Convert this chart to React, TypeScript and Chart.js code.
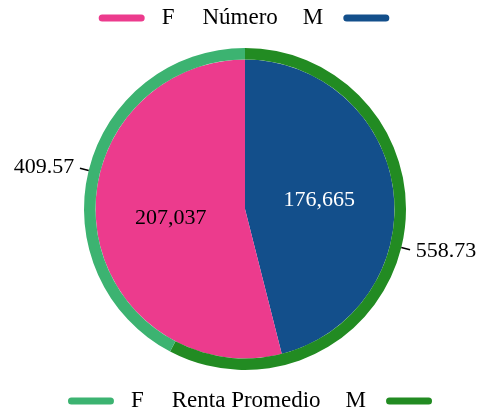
import React, { useEffect, useRef } from 'react';
import { Chart, registerables } from 'chart.js';

Chart.register(...registerables);

// Slice order: drawn clockwise from 12 o'clock
const categories = ['M', 'F'];
const numeroValues = [176665, 207037];
const rentaValues = [558.73, 409.57];
const numeroTitle = 'Número';
const rentaTitle = 'Renta Promedio';
const numeroColors = ['#134F8B', '#EC3B8D'];
const rentaColors = ['#228B22', '#3CB371'];
const numeroTextColors = ['#FFFFFF', '#000000'];

const FONT = "'Liberation Serif', 'DejaVu Serif', serif";

const fmtNumero = (v: number) => v.toLocaleString('en-US');
const fmtRenta = (v: number) => v.toFixed(2);

function drawLegend(ctx: CanvasRenderingContext2D, cx: number, cy: number, title: string, colors: string[]) {
  const iF = categories.indexOf('F');
  const iM = categories.indexOf('M');
  ctx.font = `23px ${FONT}`;
  const lineW = 46, g1 = 17, g2 = 28, g3 = 25, g4 = 20;
  const wF = ctx.measureText(categories[iF]).width;
  const wT = ctx.measureText(title).width;
  const wM = ctx.measureText(categories[iM]).width;
  const total = lineW + g1 + wF + g2 + wT + g3 + wM + g4 + lineW;
  let x = cx - total / 2;
  ctx.lineCap = 'round';
  ctx.lineWidth = 7;
  ctx.strokeStyle = colors[iF];
  ctx.beginPath();
  ctx.moveTo(x + 3.5, cy);
  ctx.lineTo(x + lineW - 3.5, cy);
  ctx.stroke();
  x += lineW + g1;
  ctx.fillStyle = '#000';
  ctx.textAlign = 'left';
  ctx.textBaseline = 'middle';
  ctx.fillText(categories[iF], x, cy);
  x += wF + g2;
  ctx.fillText(title, x, cy);
  x += wT + g3;
  ctx.fillText(categories[iM], x, cy);
  x += wM + g4;
  ctx.strokeStyle = colors[iM];
  ctx.beginPath();
  ctx.moveTo(x + 3.5, cy);
  ctx.lineTo(x + lineW - 3.5, cy);
  ctx.stroke();
}

const customPlugin = {
  id: 'customPieLabels',
  afterDatasetsDraw(chart: any) {
    const ctx: CanvasRenderingContext2D = chart.ctx;
    ctx.save();
    ctx.font = `22px ${FONT}`;
    ctx.textBaseline = 'middle';
    const inner = chart.getDatasetMeta(1);
    inner.data.forEach((arc: any, i: number) => {
      const p = arc.getProps(['x', 'y', 'startAngle', 'endAngle', 'outerRadius'], true);
      const mid = (p.startAngle + p.endAngle) / 2;
      const r = p.outerRadius * 0.5;
      ctx.fillStyle = numeroTextColors[i];
      ctx.textAlign = 'center';
      ctx.fillText(fmtNumero(numeroValues[i]), p.x + Math.cos(mid) * r, p.y + Math.sin(mid) * r);
    });
    const outer = chart.getDatasetMeta(0);
    outer.data.forEach((arc: any, i: number) => {
      const p = arc.getProps(['x', 'y', 'startAngle', 'endAngle', 'outerRadius'], true);
      const mid = (p.startAngle + p.endAngle) / 2;
      const c = Math.cos(mid), s = Math.sin(mid);
      const R = p.outerRadius;
      ctx.strokeStyle = '#000';
      ctx.lineWidth = 1.5;
      ctx.lineCap = 'butt';
      ctx.beginPath();
      ctx.moveTo(p.x + c * R, p.y + s * R);
      ctx.lineTo(p.x + c * (R + 9), p.y + s * (R + 9));
      ctx.stroke();
      ctx.fillStyle = '#000';
      ctx.textAlign = c >= 0 ? 'left' : 'right';
      ctx.fillText(fmtRenta(rentaValues[i]), p.x + c * (R + 15), p.y + s * (R + 15));
    });
    ctx.restore();
  },
  afterDraw(chart: any) {
    const ctx: CanvasRenderingContext2D = chart.ctx;
    ctx.save();
    drawLegend(ctx, 244, 18, numeroTitle, numeroColors);
    drawLegend(ctx, 250, 401, rentaTitle, rentaColors);
    ctx.restore();
  },
};

export default function App() {
  const canvasRef = useRef<HTMLCanvasElement | null>(null);

  useEffect(() => {
    if (!canvasRef.current) return;
    const chart = new Chart(canvasRef.current, {
      type: 'doughnut',
      data: {
        labels: categories,
        datasets: [
          {
            label: rentaTitle,
            data: rentaValues,
            backgroundColor: rentaColors,
            borderWidth: 0,
            weight: 1,
          },
          {
            label: numeroTitle,
            data: numeroValues,
            backgroundColor: numeroColors,
            borderWidth: 0,
            weight: 13,
          },
        ],
      },
      options: {
        responsive: false,
        maintainAspectRatio: false,
        animation: false,
        cutout: 0,
        layout: { padding: { top: 48, bottom: 39, left: 84, right: 75 } },
        plugins: {
          legend: { display: false },
          tooltip: { enabled: false },
        },
      },
      plugins: [customPlugin],
    } as any);
    return () => chart.destroy();
  }, []);

  return (
    <div style={{ position: 'absolute', left: 0, top: 0, width: 481, height: 409, background: '#fff' }}>
      <canvas ref={canvasRef} width={481} height={409} />
    </div>
  );
}
